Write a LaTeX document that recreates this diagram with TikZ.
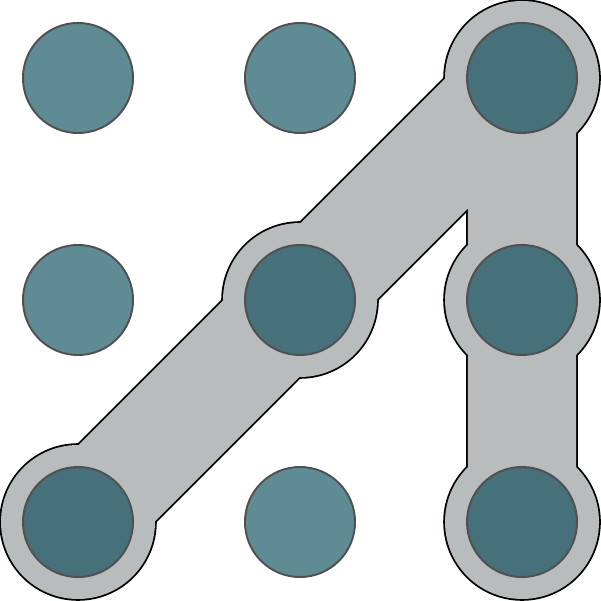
\documentclass[tikz,border=0pt]{standalone}
\begin{document}
\begin{tikzpicture}[x=0.01cm,y=-0.01cm]
\definecolor{band}{HTML}{B8BCBD}
\definecolor{dotlight}{HTML}{5F8B94}
\definecolor{dotdark}{HTML}{46707A}
\definecolor{dotedge}{HTML}{505050}
\tikzset{
  dot/.style={circle,minimum size=1.10cm,inner sep=0pt,draw=dotedge,line width=0.55pt},
  halo/.style={circle,minimum size=1.54cm,inner sep=0pt},
}
\useasboundingbox (0,0) rectangle (601,601);
% grid positions
\coordinate (p11) at (78,78);
\coordinate (p12) at (300,78);
\coordinate (p13) at (522,78);
\coordinate (p21) at (78,300);
\coordinate (p22) at (300,300);
\coordinate (p23) at (522,300);
\coordinate (p31) at (78,522);
\coordinate (p32) at (300,522);
\coordinate (p33) at (522,522);
% outline layer
\begin{scope}[black]
  \foreach \p in {p31,p22,p13,p23,p33}
    \fill (\p) circle[radius=78.8];
  \draw[line width={(108+3.6)*0.2845pt},line join=round,line cap=butt]
    (p31) -- (p22) -- (p13) -- (p33);
\end{scope}
% fill layer
\begin{scope}[band]
  \foreach \p in {p31,p22,p13,p23,p33}
    \fill (\p) circle[radius=77];
  \draw[line width={108*0.2845pt},line join=round,line cap=butt]
    (p31) -- (p22) -- (p13) -- (p33);
\end{scope}
% dots
\node[dot,fill=dotlight] (n11) at (p11) {};
\node[dot,fill=dotlight] (n12) at (p12) {};
\node[dot,fill=dotdark]  (n13) at (p13) {};
\node[dot,fill=dotlight] (n21) at (p21) {};
\node[dot,fill=dotdark]  (n22) at (p22) {};
\node[dot,fill=dotdark]  (n23) at (p23) {};
\node[dot,fill=dotdark]  (n31) at (p31) {};
\node[dot,fill=dotlight] (n32) at (p32) {};
\node[dot,fill=dotdark]  (n33) at (p33) {};
\end{tikzpicture}
\end{document}
